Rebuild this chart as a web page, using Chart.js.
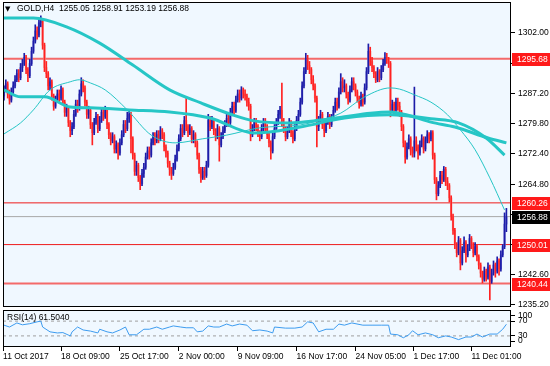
<!DOCTYPE html>
<html>
<head>
<meta charset="utf-8">
<script src="https://cdn.jsdelivr.net/npm/chart.js@4.4.1/dist/chart.umd.min.js"></script>
<style>
  html, body { margin: 0; padding: 0; background: #fff; }
  #wrap { position: relative; width: 550px; height: 366px; }
  canvas { position: absolute; left: 0; }
  #price { top: 0; }
  #rsi { top: 308px; }
</style>
</head>
<body>
<div id="wrap">
  <canvas id="price" width="550" height="308"></canvas>
  <canvas id="rsi" width="550" height="58"></canvas>
</div>
<script>
// GOLD H4 candles, one entry per bar (bar index = position in array)
const symbol = 'GOLD,H4';

const opens = [
    1286.5,1288.0,1289.5,1287.0,1285.5,1287.5,1289.0,1290.5,1292.0,1291.0,
    1293.5,1294.5,1296.0,1293.0,1291.5,1294.5,1297.5,1300.0,1302.5,1301.5,
    1304.5,1305.0,1299.0,1293.5,1292.0,1289.0,1290.0,1286.5,1284.0,1285.5,
    1287.0,1286.0,1288.0,1285.0,1282.5,1283.5,1280.0,1278.0,1279.0,1282.0,
    1284.5,1283.5,1287.0,1289.5,1288.5,1285.0,1282.0,1283.0,1279.5,1277.5,
    1280.0,1281.5,1278.5,1280.5,1282.5,1281.5,1283.0,1279.5,1277.0,1275.5,
    1276.5,1273.5,1274.5,1272.5,1275.0,1277.0,1279.5,1278.5,1281.0,1282.0,
    1276.0,1272.0,1268.0,1269.5,1266.5,1265.0,1267.5,1269.0,1271.5,1273.0,
    1272.0,1275.0,1276.5,1275.5,1277.0,1276.0,1278.0,1277.0,1274.0,1272.5,
    1270.0,1268.5,1267.5,1269.0,1271.0,1273.5,1276.0,1278.5,1277.5,1280.5,
    1279.0,1277.5,1278.5,1276.0,1277.0,1275.0,1272.0,1268.5,1266.5,1268.0,
    1267.0,1269.5,1280.5,1279.0,1280.5,1278.0,1276.5,1278.5,1274.5,1276.5,
    1278.0,1279.5,1281.0,1280.0,1282.5,1284.0,1283.0,1285.5,1287.0,1286.0,
    1288.0,1287.0,1286.5,1285.0,1284.0,1277.0,1278.5,1280.0,1279.0,1277.5,
    1276.5,1278.5,1280.0,1279.0,1277.0,1275.0,1273.0,1276.5,1278.5,1280.0,
    1282.0,1283.0,1280.0,1278.5,1276.5,1278.0,1280.0,1277.5,1276.0,1278.5,
    1280.5,1282.0,1285.0,1289.0,1292.5,1295.5,1294.0,1293.0,1290.5,1289.0,
    1286.0,1279.0,1280.5,1282.0,1279.5,1278.0,1280.0,1281.5,1279.5,1281.0,
    1283.0,1285.0,1284.0,1287.5,1290.0,1288.5,1289.0,1287.0,1285.5,1288.0,
    1290.0,1289.0,1287.5,1286.0,1284.5,1286.5,1285.0,1288.5,1292.5,1297.5,
    1295.0,1293.5,1292.0,1290.5,1292.5,1291.0,1293.0,1294.5,1296.0,1295.5,
    1294.5,1283.0,1284.5,1283.0,1285.0,1284.0,1282.5,1279.0,1275.0,1271.5,
    1274.0,1276.0,1273.0,1272.5,1275.5,1274.0,1272.5,1274.5,1276.0,1273.5,
    1275.5,1277.0,1276.0,1277.5,1272.0,1266.0,1262.5,1264.5,1267.0,1266.0,
    1268.5,1265.5,1264.5,1261.5,1257.0,1253.5,1250.0,1248.0,1251.0,1245.5,
    1248.5,1250.5,1247.5,1249.0,1251.5,1250.0,1248.0,1249.5,1247.0,1245.0,
    1243.0,1241.5,1243.5,1242.0,1244.5,1241.0,1243.0,1245.0,1243.5,1246.0,
    1244.0,1247.5,1249.5,1255.05
];

const highs = [
    1289.0,1290.5,1290.0,1288.0,1288.5,1290.0,1291.5,1293.0,1293.0,1294.5,
    1295.5,1297.0,1296.5,1293.5,1295.5,1298.5,1301.0,1304.0,1303.5,1305.5,
    1306.2,1305.5,1299.5,1295.0,1292.5,1291.0,1290.5,1287.0,1286.5,1288.0,
    1288.0,1289.0,1288.5,1285.5,1284.5,1284.0,1280.5,1280.0,1283.0,1285.5,
    1285.5,1288.0,1291.0,1290.5,1289.0,1285.5,1284.0,1283.5,1280.0,1281.0,
    1282.5,1282.0,1281.5,1283.5,1283.5,1284.0,1283.5,1280.0,1277.5,1277.5,
    1277.0,1275.5,1275.0,1276.0,1278.0,1280.5,1280.5,1282.5,1283.0,1282.5,
    1276.5,1272.5,1270.5,1270.0,1267.0,1268.5,1270.0,1272.5,1274.0,1274.0,
    1276.0,1277.5,1277.5,1278.0,1278.0,1279.0,1278.5,1277.5,1274.5,1273.0,
    1270.5,1269.0,1270.0,1272.0,1274.5,1277.0,1279.5,1279.5,1281.5,1286.0,
    1279.5,1279.5,1279.0,1278.0,1277.5,1275.5,1272.5,1269.0,1269.0,1269.0,
    1270.5,1282.0,1281.5,1281.5,1281.0,1278.5,1279.5,1279.0,1277.5,1279.0,
    1280.5,1282.0,1282.0,1283.5,1285.0,1285.0,1286.5,1288.0,1288.0,1288.8,
    1288.5,1288.0,1287.0,1286.0,1284.5,1279.5,1281.0,1281.0,1279.5,1278.0,
    1279.5,1281.0,1281.0,1279.5,1277.5,1275.5,1277.5,1279.5,1281.0,1283.0,
    1284.0,1289.7,1281.0,1279.0,1279.0,1281.0,1280.5,1278.0,1279.5,1281.5,
    1283.0,1286.0,1290.0,1293.5,1297.0,1296.5,1295.0,1293.5,1291.5,1289.5,
    1286.5,1281.5,1283.0,1282.5,1280.0,1281.0,1282.5,1282.0,1282.0,1284.0,
    1286.0,1286.0,1288.5,1292.0,1291.0,1290.5,1289.5,1287.5,1289.0,1291.0,
    1291.0,1289.5,1288.0,1286.5,1287.5,1287.0,1289.5,1293.5,1299.3,1298.5,
    1296.0,1294.0,1292.5,1293.5,1293.0,1294.0,1295.5,1297.2,1297.0,1296.0,
    1295.0,1285.5,1285.0,1286.0,1286.0,1285.0,1283.0,1279.5,1275.5,1275.0,
    1277.0,1276.5,1274.0,1288.7,1276.5,1274.5,1275.5,1277.0,1276.5,1276.5,
    1278.0,1277.5,1278.0,1278.0,1272.5,1266.5,1265.5,1268.0,1268.0,1269.2,
    1269.0,1266.5,1265.0,1262.0,1257.5,1254.0,1250.5,1252.0,1251.5,1249.5,
    1251.9,1251.0,1250.0,1252.5,1252.0,1250.5,1250.5,1250.0,1247.5,1245.5,
    1243.5,1244.5,1244.0,1245.5,1245.0,1244.0,1246.0,1245.5,1247.0,1246.5,
    1248.5,1250.0,1257.8,1258.91
];

const lows = [
    1285.5,1287.5,1286.0,1284.5,1285.0,1287.0,1288.5,1290.0,1290.0,1290.5,
    1292.5,1294.0,1292.0,1290.0,1291.0,1294.0,1297.0,1299.5,1300.5,1301.0,
    1303.5,1298.0,1292.5,1291.0,1288.0,1288.0,1285.5,1283.0,1283.5,1285.0,
    1285.0,1285.5,1284.5,1281.5,1281.5,1279.0,1276.5,1277.0,1278.5,1281.5,
    1282.5,1283.0,1286.5,1287.5,1284.0,1281.0,1281.0,1278.5,1274.5,1277.0,
    1279.5,1277.5,1278.0,1280.0,1280.5,1281.0,1278.5,1276.0,1274.5,1275.0,
    1272.5,1272.5,1271.0,1272.0,1274.5,1276.5,1277.5,1278.0,1280.0,1272.5,
    1271.0,1267.0,1267.0,1265.5,1263.5,1264.5,1266.5,1268.5,1271.0,1271.0,
    1271.5,1274.5,1274.5,1275.0,1275.0,1275.5,1276.0,1273.0,1271.5,1269.0,
    1267.0,1266.0,1267.0,1268.5,1270.5,1273.0,1275.5,1276.5,1277.0,1278.0,
    1276.5,1277.0,1275.0,1275.0,1274.0,1271.0,1267.5,1265.3,1266.0,1266.0,
    1266.5,1269.0,1278.0,1278.5,1277.0,1275.5,1276.0,1270.5,1274.0,1276.0,
    1277.5,1279.0,1279.0,1279.5,1282.0,1282.0,1282.5,1285.0,1285.0,1285.5,
    1286.0,1285.5,1284.0,1283.0,1275.5,1276.5,1278.0,1278.0,1276.5,1275.5,
    1276.0,1278.0,1278.0,1276.0,1274.0,1271.0,1272.5,1276.0,1278.0,1279.5,
    1281.0,1279.0,1277.5,1275.5,1276.0,1277.5,1276.5,1275.0,1275.5,1278.0,
    1280.0,1281.5,1284.5,1288.5,1292.0,1293.0,1292.0,1289.5,1288.0,1285.0,
    1274.0,1278.0,1280.0,1278.5,1276.5,1277.5,1279.5,1278.5,1279.0,1280.5,
    1282.5,1283.0,1283.5,1287.0,1287.5,1287.5,1286.0,1284.5,1285.0,1287.5,
    1288.0,1286.5,1285.0,1283.5,1284.0,1284.0,1284.5,1288.0,1292.0,1294.0,
    1292.5,1291.0,1289.8,1290.0,1290.0,1290.5,1292.5,1294.0,1294.5,1293.5,
    1281.4,1282.5,1282.0,1282.5,1283.0,1281.5,1278.0,1274.0,1270.0,1271.0,
    1273.5,1272.0,1271.5,1271.5,1273.0,1271.0,1272.0,1274.0,1272.5,1273.0,
    1275.0,1275.0,1275.5,1271.0,1265.0,1261.0,1262.0,1264.0,1265.0,1265.5,
    1264.5,1263.5,1260.5,1256.0,1252.5,1249.0,1247.0,1247.5,1243.8,1245.0,
    1248.0,1245.7,1247.0,1248.5,1249.0,1247.0,1247.5,1246.0,1244.0,1242.0,
    1240.6,1241.0,1241.0,1241.5,1236.4,1240.5,1242.5,1242.0,1243.0,1242.5,
    1243.5,1247.0,1249.0,1253.19
];

const closes = [
    1288.0,1289.5,1287.0,1285.5,1287.5,1289.0,1290.5,1292.0,1291.0,1293.5,
    1294.5,1296.0,1293.0,1291.5,1294.5,1297.5,1300.0,1302.5,1301.5,1304.5,
    1305.0,1299.0,1293.5,1292.0,1289.0,1290.0,1286.5,1284.0,1285.5,1287.0,
    1286.0,1288.0,1285.0,1282.5,1283.5,1280.0,1278.0,1279.0,1282.0,1284.5,
    1283.5,1287.0,1289.5,1288.5,1285.0,1282.0,1283.0,1279.5,1277.5,1280.0,
    1281.5,1278.5,1280.5,1282.5,1281.5,1283.0,1279.5,1277.0,1275.5,1276.5,
    1273.5,1274.5,1272.5,1275.0,1277.0,1279.5,1278.5,1281.0,1282.0,1276.0,
    1272.0,1268.0,1269.5,1266.5,1265.0,1267.5,1269.0,1271.5,1273.0,1272.0,
    1275.0,1276.5,1275.5,1277.0,1276.0,1278.0,1277.0,1274.0,1272.5,1270.0,
    1268.5,1267.5,1269.0,1271.0,1273.5,1276.0,1278.5,1277.5,1280.5,1279.0,
    1277.5,1278.5,1276.0,1277.0,1275.0,1272.0,1268.5,1266.5,1268.0,1267.0,
    1269.5,1280.5,1279.0,1280.5,1278.0,1276.5,1278.5,1274.5,1276.5,1278.0,
    1279.5,1281.0,1280.0,1282.5,1284.0,1283.0,1285.5,1287.0,1286.0,1288.0,
    1287.0,1286.5,1285.0,1284.0,1277.0,1278.5,1280.0,1279.0,1277.5,1276.5,
    1278.5,1280.0,1279.0,1277.0,1275.0,1273.0,1276.5,1278.5,1280.0,1282.0,
    1283.0,1280.0,1278.5,1276.5,1278.0,1280.0,1277.5,1276.0,1278.5,1280.5,
    1282.0,1285.0,1289.0,1292.5,1295.5,1294.0,1293.0,1290.5,1289.0,1286.0,
    1279.0,1280.5,1282.0,1279.5,1278.0,1280.0,1281.5,1279.5,1281.0,1283.0,
    1285.0,1284.0,1287.5,1290.0,1288.5,1289.0,1287.0,1285.5,1288.0,1290.0,
    1289.0,1287.5,1286.0,1284.5,1286.5,1285.0,1288.5,1292.5,1297.5,1295.0,
    1293.5,1292.0,1290.5,1292.5,1291.0,1293.0,1294.5,1296.0,1295.5,1294.5,
    1283.0,1284.5,1283.0,1285.0,1284.0,1282.5,1279.0,1275.0,1271.5,1274.0,
    1276.0,1273.0,1272.5,1275.5,1274.0,1272.5,1274.5,1276.0,1273.5,1275.5,
    1277.0,1276.0,1277.5,1272.0,1266.0,1262.5,1264.5,1267.0,1266.0,1268.5,
    1265.5,1264.5,1261.5,1257.0,1253.5,1250.0,1248.0,1251.0,1245.5,1248.5,
    1250.5,1247.5,1249.0,1251.5,1250.0,1248.0,1249.5,1247.0,1245.0,1243.0,
    1241.5,1243.5,1242.0,1244.5,1241.0,1243.0,1245.0,1243.5,1246.0,1244.0,
    1247.5,1249.5,1255.05,1256.88
];

// Moving averages (bar index -> price)
const maSlowBars = [0, 16, 34, 52, 70, 90, 107, 124, 136, 155, 172, 185, 199, 210, 221, 232, 245, 263, 273];
const maSlowVals = [1305.7, 1305.7, 1303.5, 1299.5, 1294.1, 1288.0, 1284.8, 1281.9, 1280.4, 1279.9, 1280.6, 1281.4, 1282.3, 1282.6, 1281.6, 1280.1, 1278.9, 1276.2, 1275.0];

const maMidBars = [0, 9, 22, 36, 47, 68, 90, 112, 136, 161, 185, 210, 232, 247, 262, 272];
const maMidVals = [1288.0, 1286.3, 1286.3, 1283.8, 1283.6, 1283.1, 1282.6, 1281.1, 1277.4, 1278.9, 1281.1, 1281.9, 1280.9, 1279.9, 1276.2, 1272.0];

const maFastBars = [0, 9, 16, 25, 36, 41, 47, 55, 67, 80, 93, 108, 121, 139, 161, 172, 183, 196, 210, 215, 223, 232, 241, 248, 256, 264, 272];
const maFastVals = [1277.2, 1279.9, 1283.1, 1288.0, 1290.0, 1290.5, 1289.7, 1288.0, 1283.1, 1276.9, 1275.0, 1276.0, 1276.9, 1278.7, 1279.4, 1280.6, 1282.3, 1286.3, 1288.5, 1288.2, 1286.8, 1285.0, 1281.9, 1278.2, 1273.3, 1266.4, 1258.5];

// Horizontal levels and the bid line
const levels = [1295.68, 1260.26, 1250.01, 1240.44];
const bidPrice = 1256.88;

// Axis ticks
const priceTicks = [1302.00, 1294.60, 1287.20, 1279.80, 1272.40, 1264.80, 1257.40, 1250.00, 1242.60, 1235.20];
const timeLabels = ['11 Oct 2017', '18 Oct 09:00', '25 Oct 17:00', '2 Nov 00:00', '9 Nov 09:00', '16 Nov 17:00', '24 Nov 05:00', '1 Dec 17:00', '11 Dec 01:00'];
const timeTickBars = [-0.5, 31, 63, 95, 127, 159, 191, 222.5, 254];

// RSI(14)
const rsiBars = [0,3,7,10,14,18,20,21,25,29,32,36,37,40,43,47,51,52,56,59,63,66,68,72,76,79,83,86,90,92,96,99,103,105,108,111,114,117,121,124,128,132,135,139,143,146,147,153,158,162,165,168,171,175,179,182,185,189,195,200,205,209,210,214,217,220,222,225,229,233,236,240,243,247,251,254,257,260,264,268,271,273];
const rsiVals = [59,54,65,60,63,68,70,54,41,38,39,30,41,54,46,43,38,48,41,38,46,54,33,33,48,48,54,48,54,57,54,52,52,41,43,57,54,54,62,57,62,59,44,46,43,38,54,51,51,54,68,65,41,48,48,62,59,65,59,59,59,59,35,33,25,33,44,33,38,33,25,30,27,20,27,27,35,27,35,35,48,61.504];
const rsiLevels = [70, 30];
const rsiTickLabels = ['100', '70', '30', '0'];
const rsiTickSpots = [85, 70, 30, 16];

// View ranges
const xMin = -0.54, xMax = 275.5;
const priceMin = 1234.68, priceMax = 1309.6;

const FONT = '"Liberation Sans", Arial, sans-serif';
Chart.defaults.font.family = FONT;
Chart.defaults.font.size = 8.5;
Chart.defaults.color = '#000';

const BULL_WICK = '#1c1ca8', BULL_BODY = '#8888d6';
const BEAR_WICK = '#ff2222', BEAR_BODY = '#f59c9c';
const MA_COLOR = '#26c6c6';

function zip(bars, vals) {
    return bars.map((b, i) => ({ x: b, y: vals[i] }));
}

function flatLine(v) {
    return [{ x: xMin, y: v }, { x: xMax, y: v }];
}

// light blue pane background + black frame
const paneFrame = {
    id: 'paneFrame',
    beforeDraw(chart) {
        const { ctx, chartArea: a } = chart;
        ctx.save();
        ctx.fillStyle = '#f0f8ff';
        ctx.fillRect(a.left, a.top, a.right - a.left, a.bottom - a.top);
        ctx.restore();
    },
    afterDatasetsDraw(chart) {
        const { ctx, chartArea: a } = chart;
        ctx.save();
        ctx.strokeStyle = '#000';
        ctx.lineWidth = 1;
        ctx.strokeRect(a.left + 0.5, a.top + 0.5, a.right - a.left - 1, a.bottom - a.top - 1);
        ctx.restore();
    }
};

function drawTag(ctx, x, y, text, color) {
    ctx.fillStyle = color;
    ctx.fillRect(x, Math.round(y) - 6, 550 - x, 13);
    ctx.fillStyle = '#fff';
    ctx.fillText(text, x + 5, Math.round(y) + 0.5);
}

// price tags on the right axis and the symbol header
const priceTags = {
    id: 'priceTags',
    afterDraw(chart) {
        const { ctx, chartArea: a } = chart;
        const y = chart.scales.y;
        const last = closes.length - 1;
        ctx.save();
        ctx.font = '8.5px ' + FONT;
        ctx.textAlign = 'left';
        ctx.textBaseline = 'middle';
        levels.forEach(v => drawTag(ctx, a.right + 1, y.getPixelForValue(v), v.toFixed(2), '#ff1a1a'));
        drawTag(ctx, a.right + 1, y.getPixelForValue(bidPrice), bidPrice.toFixed(2), '#000');

        ctx.fillStyle = '#000';
        ctx.font = '7px "DejaVu Sans", sans-serif';
        ctx.fillText('\u25BC', 5, 9);
        ctx.font = '8.5px ' + FONT;
        const head = [opens[last], highs[last], lows[last], closes[last]].map(v => v.toFixed(2)).join(' ');
        ctx.fillText(symbol + '  ' + head, 17, 9);
        ctx.restore();
    }
};

const rsiHeader = {
    id: 'rsiHeader',
    afterDraw(chart) {
        const { ctx, chartArea: a } = chart;
        ctx.save();
        ctx.font = '8.5px ' + FONT;
        ctx.fillStyle = '#000';
        ctx.textBaseline = 'middle';
        ctx.fillText('RSI(14) ' + rsiVals[rsiVals.length - 1].toFixed(4), a.left + 4, a.top + 8);
        ctx.restore();
    }
};

function fixWidth(scale) {
    scale.width = 39;
    scale.paddingTop = 0;
    scale.paddingBottom = 0;
}

const barIdx = closes.map((c, i) => i);
const wickColors = barIdx.map(i => closes[i] >= opens[i] ? BULL_WICK : BEAR_WICK);
const bodyColors = barIdx.map(i => closes[i] >= opens[i] ? BULL_BODY : BEAR_BODY);

new Chart(document.getElementById('price'), {
    type: 'bar',
    data: {
        datasets: [
            {
                type: 'line', data: zip(maFastBars, maFastVals), borderColor: MA_COLOR,
                borderWidth: 1, pointRadius: 0, cubicInterpolationMode: 'monotone', order: 1
            },
            {
                type: 'line', data: zip(maMidBars, maMidVals), borderColor: MA_COLOR,
                borderWidth: 3, pointRadius: 0, cubicInterpolationMode: 'monotone', order: 1
            },
            {
                type: 'line', data: zip(maSlowBars, maSlowVals), borderColor: MA_COLOR,
                borderWidth: 3, pointRadius: 0, cubicInterpolationMode: 'monotone', order: 1
            },
            {
                data: barIdx.map(i => ({ x: i, y: [lows[i], highs[i]] })),
                backgroundColor: wickColors, barThickness: 1, grouped: false, order: 3
            },
            {
                data: barIdx.map(i => ({ x: i, y: [opens[i], closes[i]] })),
                backgroundColor: bodyColors, barThickness: 1.6, grouped: false, order: 4
            },
            ...levels.map((v, k) => ({
                type: 'line', data: flatLine(v), borderColor: (k === 0 || k === 3) ? '#f46a6a' : '#ee1c1c',
                borderWidth: (k === 0 || k === 3) ? 2 : 1, pointRadius: 0, order: 6
            })),
            {
                type: 'line', data: flatLine(bidPrice), borderColor: '#a8a8a8',
                borderWidth: 1, pointRadius: 0, order: 6
            }
        ]
    },
    options: {
        responsive: false,
        animation: false,
        events: [],
        devicePixelRatio: 1,
        layout: { padding: { left: 3, top: 2, right: 0, bottom: 1 } },
        plugins: { legend: { display: false }, tooltip: { enabled: false } },
        scales: {
            x: { type: 'linear', min: xMin, max: xMax, offset: false, display: false },
            y: {
                position: 'right', min: priceMin, max: priceMax,
                afterBuildTicks: s => { s.ticks = priceTicks.map(v => ({ value: v })); },
                afterFit: fixWidth,
                ticks: { callback: v => v.toFixed(2), padding: 3, autoSkip: false },
                grid: { drawOnChartArea: false, drawTicks: true, tickLength: 4, color: '#000' },
                border: { display: false }
            }
        }
    },
    plugins: [paneFrame, priceTags]
});

new Chart(document.getElementById('rsi'), {
    type: 'line',
    data: {
        datasets: [
            {
                data: zip(rsiBars, rsiVals), borderColor: '#3d9cf0', borderWidth: 1,
                pointRadius: 0, tension: 0, order: 1
            },
            ...rsiLevels.map(v => ({
                data: flatLine(v), borderColor: '#a0a0a0', borderWidth: 1,
                borderDash: [3, 3], pointRadius: 0, order: 2
            }))
        ]
    },
    options: {
        responsive: false,
        animation: false,
        events: [],
        devicePixelRatio: 1,
        layout: { padding: { left: 3, top: 2, right: 0, bottom: 0 } },
        plugins: { legend: { display: false }, tooltip: { enabled: false } },
        scales: {
            x: {
                type: 'linear', min: xMin, max: xMax, offset: false,
                afterBuildTicks: s => { s.ticks = timeTickBars.map(v => ({ value: v })); },
                afterFit: s => { s.height = 19; s.paddingLeft = 0; s.paddingRight = 0; },
                ticks: {
                    callback: (v, i) => timeLabels[i], align: 'start', autoSkip: false,
                    maxRotation: 0, minRotation: 0, padding: 1
                },
                grid: { drawOnChartArea: false, drawTicks: true, tickLength: 4, color: '#000' },
                border: { display: false }
            },
            y: {
                position: 'right', min: 0, max: 100,
                afterBuildTicks: s => { s.ticks = rsiTickSpots.map(v => ({ value: v })); },
                afterFit: fixWidth,
                ticks: { callback: (v, i) => rsiTickLabels[i], padding: 3, autoSkip: false },
                grid: { drawOnChartArea: false, drawTicks: true, tickLength: 4, color: '#000' },
                border: { display: false }
            }
        }
    },
    plugins: [paneFrame, rsiHeader]
});
</script>
</body>
</html>
